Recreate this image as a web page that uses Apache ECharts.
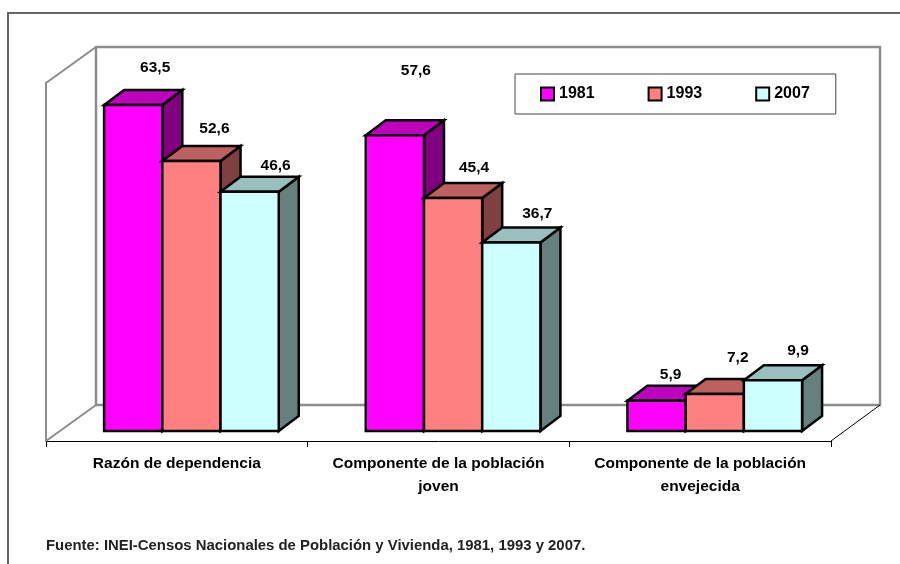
<!DOCTYPE html>
<html>
<head>
<meta charset="utf-8">
<style>
  html, body { margin: 0; padding: 0; background: #fff; }
  #chart { width: 900px; height: 564px; }
</style>
</head>
<body>
<div id="chart"></div>
<script src="https://cdn.jsdelivr.net/npm/echarts@6/dist/echarts.min.js"></script>
<script>
const categories = [
  "Razón de dependencia",
  "Componente de la población\njoven",
  "Componente de la población\nenvejecida",
];
const years = ["1981", "1993", "2007"];
const values1981 = [63.5, 57.6, 5.9];
const values1993 = [52.6, 45.4, 7.2];
const values2007 = [46.6, 36.7, 9.9];
const source = "Fuente: INEI-Censos Nacionales de Población y Vivienda, 1981, 1993 y 2007.";

const font = '"Liberation Sans", Arial, sans-serif';
const depthX = 20;
const depthY = 15;
const wallX = 50;
const wallY = 36;

// front, top and side face of each year's bars
const faces = [
  { front: "#ff00ff", top: "#bf00bf", side: "#800080" },
  { front: "#ff8080", top: "#bf6060", side: "#804040" },
  { front: "#ccffff", top: "#99bfbf", side: "#668080" },
];

// the labels were hand placed in the original, px from the bar's front top corner centre
const labelNudge = [
  [[22, -37], [23, -32], [26, -26]],
  [[21, -65], [21, -30], [26, -29]],
  [[14, -26], [23, -36], [25, -29]],
];

const fmt = (v) => v.toFixed(1).replace(".", ",");

function barItem(yearIdx) {
  return (params, api) => {
    const cat = api.value(0);
    const val = api.value(1);
    const band = api.size([1, 0])[0];
    const barW = band * 0.2225;
    const cx = api.coord([cat, 0])[0];
    const x0 = cx - band / 2 + band * 0.222 + yearIdx * barW;
    const x1 = x0 + barW;
    const y0 = api.coord([cat, 0])[1];
    const y1 = api.coord([cat, val])[1];
    const c = faces[yearIdx];
    const line = { stroke: "#000", lineWidth: 2.5, lineJoin: "miter" };
    const poly = (points, fill) => ({
      type: "polygon",
      shape: { points },
      style: { fill, ...line },
    });
    const nudge = labelNudge[cat][yearIdx];
    return {
      type: "group",
      children: [
        poly([[x1, y0], [x1 + depthX, y0 - depthY], [x1 + depthX, y1 - depthY], [x1, y1]], c.side),
        poly([[x0, y1], [x0 + depthX, y1 - depthY], [x1 + depthX, y1 - depthY], [x1, y1]], c.top),
        poly([[x0, y0], [x1, y0], [x1, y1], [x0, y1]], c.front),
        {
          type: "text",
          style: {
            text: fmt(val),
            x: (x0 + x1) / 2 + nudge[0],
            y: y1 + nudge[1],
            align: "center",
            verticalAlign: "middle",
            fontFamily: font,
            fontSize: 15.5,
            fontWeight: "bold",
            fill: "#000",
          },
        },
      ],
    };
  };
}

// back wall, side wall and floor edges, worked out from the grid rectangle
function wallItem(params) {
  const g = params.coordSys;
  const left = g.x;
  const right = g.x + g.width;
  const front = g.y + g.height;
  const backX = left + wallX;
  const backR = right + wallX - 1;
  const backY = front - wallY;
  const topY = g.y + 1;
  const seg = (pts, stroke, lineWidth) => ({
    type: "polyline",
    shape: { points: pts },
    style: { fill: "none", stroke, lineWidth },
  });
  return {
    type: "group",
    children: [
      seg([[backX, backY], [backX, topY], [backR, topY], [backR, backY], [backX, backY]], "#8c8c8c", 2.5),
      seg([[left, front], [left, topY + wallY], [backX, topY]], "#8c8c8c", 2),
      seg([[left, front], [backX, backY]], "#8c8c8c", 2),
      seg([[right, front], [backR, backY]], "#000", 1),
    ],
  };
}

const dataFor = (vals) => vals.map((v, i) => [i, v]);

const chart = echarts.init(document.getElementById("chart"));
chart.setOption({
  animation: false,
  backgroundColor: "#fff",
  // the floor's front edge sits a little below the value 0 of the bars
  grid: { left: 46, right: 69, top: 46, bottom: 123 },
  title: {
    text: source,
    left: 46,
    top: 538,
    padding: 0,
    textStyle: { fontFamily: font, fontSize: 14.9, fontWeight: "bold", color: "#222" },
  },
  legend: {
    data: years,
    left: 515,
    top: 74,
    icon: "rect",
    itemWidth: 13,
    itemHeight: 13,
    itemGap: 53,
    padding: [12, 26, 12, 25],
    borderColor: "#444",
    borderWidth: 1,
    backgroundColor: "#fff",
    itemStyle: { borderColor: "#000", borderWidth: 2 },
    textStyle: { fontFamily: font, fontSize: 16, fontWeight: "bold", color: "#000" },
  },
  xAxis: {
    type: "category",
    data: categories,
    axisLine: { onZero: false, lineStyle: { color: "#000", width: 1 } },
    axisTick: { show: true, length: 6, lineStyle: { color: "#000", width: 1 } },
    axisLabel: {
      margin: 11,
      fontFamily: font,
      fontSize: 15.5,
      fontWeight: "bold",
      lineHeight: 23,
      color: "#000",
      interval: 0,
    },
  },
  yAxis: { type: "value", min: -1.95, max: 75, show: false },
  series: [
    {
      name: "walls",
      type: "custom",
      data: [[0, 0]],
      clip: false,
      silent: true,
      z: 1,
      renderItem: wallItem,
    },
    ...[values1981, values1993, values2007].map((vals, i) => ({
      name: years[i],
      type: "custom",
      data: dataFor(vals),
      encode: { x: 0, y: 1 },
      clip: false,
      z: 3 + i,
      itemStyle: { color: faces[i].front },
      renderItem: barItem(i),
    })),
  ],
  graphic: [
    {
      type: "polyline",
      silent: true,
      shape: { points: [[8, 564], [8, 13], [900, 13]] },
      style: { fill: "none", stroke: "#666", lineWidth: 2 },
    },
  ],
});
</script>
</body>
</html>
